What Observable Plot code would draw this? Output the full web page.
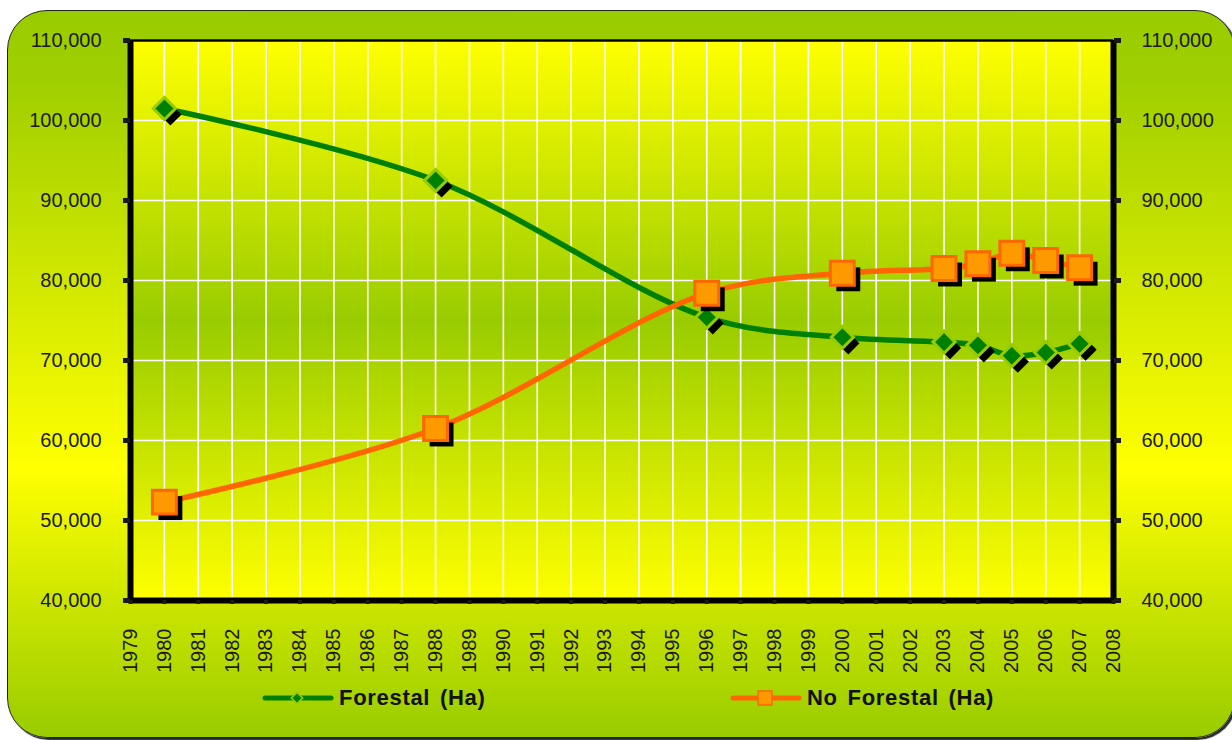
<!DOCTYPE html>
<html>
<head>
<meta charset="utf-8">
<script src="https://cdn.jsdelivr.net/npm/d3@7"></script>
<script src="https://cdn.jsdelivr.net/npm/@observablehq/plot@0.6"></script>
<style>
  html, body { margin: 0; padding: 0; background: #ffffff; }
  #wrap { position: relative; width: 1232px; height: 740px; overflow: hidden; }
  #bg {
    position: absolute; left: 7px; top: 10px; width: 1226px; height: 726px;
    border: 1.5px solid #222; border-radius: 40px;
    background: linear-gradient(to bottom, #99cc00 0%, #a0cf00 10%, #ffff00 63%, #99cc00 100%);
    box-shadow: 2px 2px 1px rgba(0,0,0,0.85);
  }
  #chart { position: absolute; left: 0; top: 0; }
  #legend { position: absolute; left: 0; top: 683px; width: 1232px; height: 30px;
    font-family: "Liberation Sans", Arial, sans-serif; font-weight: bold; font-size: 22px; color: #111; }
  .item { position: absolute; top: 0; display: flex; align-items: center; height: 30px; }
  .item span { letter-spacing: 0.7px; word-spacing: 3px; margin-left: 5px; }
</style>
</head>
<body>
<div id="wrap">
  <div id="bg"></div>
  <div id="chart"></div>
  <div id="legend"></div>
</div>
<script>
// ---- data ----
const years = [1980, 1988, 1996, 2000, 2003, 2004, 2005, 2006, 2007];
const forestal = [101500, 92500, 75400, 72900, 72300, 71900, 70600, 71000, 72100];
const noForestal = [52300, 61500, 78400, 80900, 81500, 82100, 83400, 82500, 81600];
const seriesNames = ["Forestal (Ha)", "No Forestal (Ha)"];
const xTicks = [1979, 1980, 1981, 1982, 1983, 1984, 1985, 1986, 1987, 1988, 1989, 1990,
  1991, 1992, 1993, 1994, 1995, 1996, 1997, 1998, 1999, 2000, 2001, 2002, 2003, 2004,
  2005, 2006, 2007, 2008];
const yTicks = [40000, 50000, 60000, 70000, 80000, 90000, 100000, 110000];

const fData = years.map((y, i) => ({year: y, value: forestal[i]}));
const nData = years.map((y, i) => ({year: y, value: noForestal[i]}));

const green = "#008000", greenEdge = "#99cc00";
const orangeLine = "#ff6600", orangeFill = "#ff9900";
const fmt = d3.format(",");
const textColor = "#1a1a1a";

const chart = Plot.plot({
  width: 1232,
  height: 680,
  marginLeft: 130,
  marginRight: 119,
  marginTop: 40,
  marginBottom: 80,
  x: {type: "linear", domain: [1979, 2008]},
  y: {domain: [40000, 110000]},
  style: {background: "transparent", fontFamily: "'Liberation Sans', Arial, sans-serif", color: textColor},
  marks: [
    Plot.frame({fill: "url(#plotGrad)", stroke: null}),
    Plot.gridX(xTicks, {stroke: "#ffffff", strokeOpacity: 1, strokeWidth: 1.6}),
    Plot.gridY(yTicks, {stroke: "#ffffff", strokeOpacity: 1, strokeWidth: 1.6}),
    Plot.ruleY([110000], {stroke: "#000", strokeWidth: 2.5}),
    Plot.ruleY([40000], {stroke: "#000", strokeWidth: 6}),
    Plot.ruleX([1979], {stroke: "#000", strokeWidth: 6, y1: 40000, y2: 110000}),
    Plot.ruleX([2008], {stroke: "#000", strokeWidth: 6, y1: 40000, y2: 110000}),
    Plot.axisY(yTicks, {anchor: "left", tickFormat: fmt, tickSize: 7, strokeWidth: 5, tickPadding: 22, fontSize: 20, label: null, fill: textColor}),
    Plot.axisY(yTicks, {anchor: "right", tickFormat: fmt, tickSize: 7, strokeWidth: 5, tickPadding: 21, fontSize: 20, label: null, fill: textColor}),
    Plot.axisX(xTicks, {anchor: "bottom", tickRotate: -90, tickFormat: d => String(d), tickSize: 4, strokeWidth: 4, tickPadding: 24, fontSize: 20, label: null, fill: textColor}),
    // Forestal
    Plot.line(fData, {x: "year", y: "value", stroke: green, strokeWidth: 5.5, curve: "catmull-rom"}),
    Plot.dot(fData, {x: "year", y: "value", symbol: "diamond2", r: 10, fill: "#000", stroke: null, dx: 6, dy: 6}),
    Plot.dot(fData, {x: "year", y: "value", symbol: "diamond2", r: 10, fill: green, stroke: greenEdge, strokeWidth: 3}),
    // No Forestal
    Plot.line(nData, {x: "year", y: "value", stroke: orangeLine, strokeWidth: 5.5, curve: "catmull-rom"}),
    Plot.dot(nData, {x: "year", y: "value", symbol: "square", r: 13.5, fill: "#000", stroke: null, dx: 6, dy: 6}),
    Plot.dot(nData, {x: "year", y: "value", symbol: "square", r: 13.5, fill: orangeFill, stroke: orangeLine, strokeWidth: 3})
  ]
});

d3.select(chart).insert("defs", ":first-child").html(`
  <linearGradient id="plotGrad" x1="0" y1="0" x2="0" y2="1">
    <stop offset="0%" stop-color="#ffff00"/>
    <stop offset="50%" stop-color="#99cc00"/>
    <stop offset="100%" stop-color="#ffff00"/>
  </linearGradient>`);

document.getElementById("chart").appendChild(chart);

// ---- legend ----
const legend = document.getElementById("legend");
const items = [
  {name: seriesNames[0], left: 262, line: green, sym: "diamond"},
  {name: seriesNames[1], left: 730, line: orangeLine, sym: "square"}
];
items.forEach(it => {
  const div = document.createElement("div");
  div.className = "item";
  div.style.left = it.left + "px";
  const marker = it.sym === "diamond"
    ? `<rect x="31" y="11" width="8" height="8" transform="rotate(45 35 15)" fill="${green}" stroke="${greenEdge}" stroke-width="1.5"/>`
    : `<rect x="28" y="8" width="14" height="14" fill="${orangeFill}" stroke="${orangeLine}" stroke-width="1.5"/>`;
  div.innerHTML = `<svg width="72" height="30"><line x1="3" y1="15" x2="69" y2="15" stroke="${it.line}" stroke-width="5" stroke-linecap="round"/>${marker}</svg><span>${it.name}</span>`;
  legend.appendChild(div);
});
</script>
</body>
</html>
